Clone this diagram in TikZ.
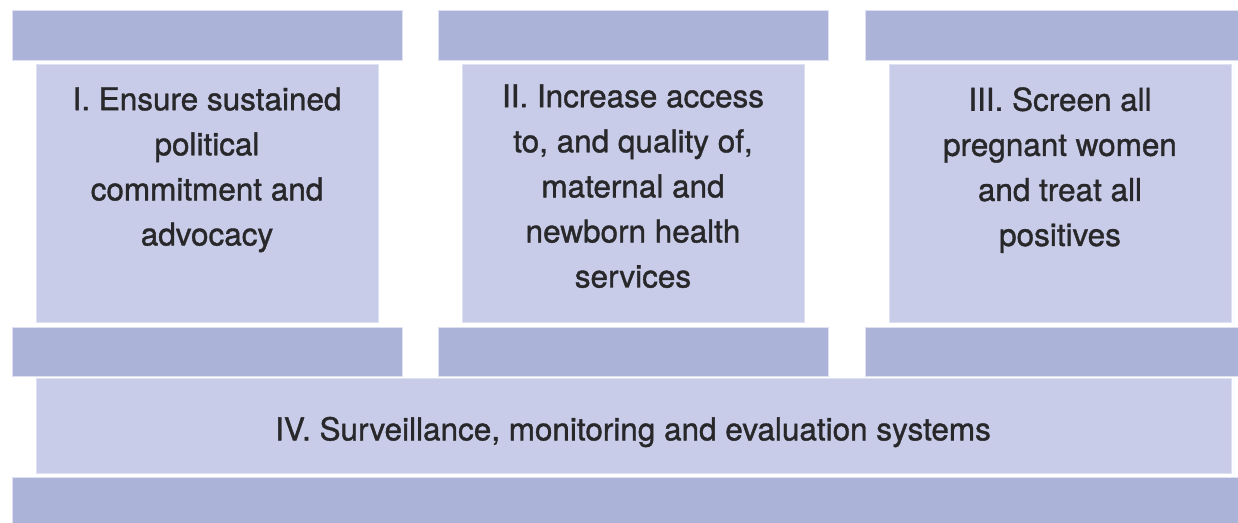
\documentclass[tikz,border=0pt]{standalone}
\usepackage{fontspec}
\setmainfont{TeX Gyre Heros}[FakeBold=1.2]
\usepackage{tikz}

\definecolor{bardark}{RGB}{171,179,217}
\definecolor{barlight}{RGB}{200,204,232}
\definecolor{barline}{RGB}{222,225,241}
\definecolor{textgray}{RGB}{40,40,42}

\tikzset{
	bar/.style={fill=bardark,draw=barline,line width=0.6pt},
	pillar/.style={fill=barlight,draw=barline,line width=0.6pt},
	label/.style={text=textgray,align=center,font=\fontsize{23.6pt}{33.8pt}\selectfont,inner sep=0pt}
}

\begin{document}
\begin{tikzpicture}[x=0.75pt,y=-0.75pt]
	\useasboundingbox (0,0) rectangle (1238,522);
	
	% capitals and bases of the three pillars
	\foreach \xl/\xr in {12/402,438/828,865/1238}{
		\path[bar] (\xl,10) rectangle (\xr,60);
		\path[bar] (\xl,327) rectangle (\xr,376);
	}
	
	% pillars
	\path[pillar] (36,64) rectangle (378,322);
	\path[pillar] (462,64) rectangle (804,322);
	\path[pillar] (889,64) rectangle (1231,322);
	
	% foundation
	\path[pillar] (36,378) rectangle (1231,473);
	\path[bar] (12,477) rectangle (1238,526);
	
	\node[label,anchor=north] (pillarI) at (207,87) {I. Ensure sustained\\political\\commitment and\\advocacy};
	\node[label,anchor=north] (pillarII) at (633,84) {II. Increase access\\to, and quality of,\\maternal and\\newborn health\\services};
	\node[label,anchor=north] (pillarIII) at (1060,87) {III. Screen all\\pregnant women\\and treat all\\positives};
	\node[label] (basement) at (633,432) {IV. Surveillance, monitoring and evaluation systems};
	
\end{tikzpicture}
\end{document}
